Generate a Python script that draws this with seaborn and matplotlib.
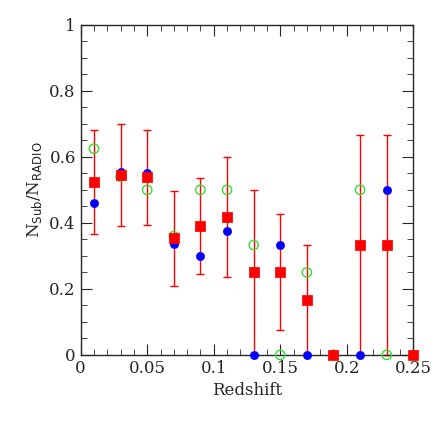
import matplotlib
matplotlib.use("Agg")
import matplotlib.pyplot as plt
import seaborn as sns
import numpy as np
from matplotlib.ticker import MultipleLocator

# data
z_red = [0.01, 0.03, 0.05, 0.07, 0.09, 0.11, 0.13, 0.15, 0.17, 0.19, 0.21, 0.23, 0.25]
frac_red = [0.525, 0.545, 0.54, 0.355, 0.39, 0.417, 0.25, 0.25, 0.167, 0.0, 0.333, 0.333, 0.0]
err_lo = [0.365, 0.39, 0.395, 0.21, 0.245, 0.235, 0.0, 0.075, 0.0, 0.0, 0.0, 0.0, 0.0]
err_hi = [0.68, 0.70, 0.68, 0.497, 0.535, 0.60, 0.5, 0.427, 0.333, 0.0, 0.667, 0.667, 0.0]

z_blue = [0.01, 0.03, 0.05, 0.07, 0.09, 0.11, 0.13, 0.15, 0.17, 0.21, 0.23]
frac_blue = [0.46, 0.555, 0.55, 0.335, 0.30, 0.375, 0.0, 0.333, 0.0, 0.0, 0.5]

z_green = [0.01, 0.03, 0.05, 0.07, 0.09, 0.11, 0.13, 0.15, 0.17, 0.19, 0.21, 0.23]
frac_green = [0.625, 0.54, 0.5, 0.36, 0.5, 0.5, 0.333, 0.0, 0.25, 0.0, 0.5, 0.0]

sns.set_style("ticks")
plt.rcParams['font.family'] = ['DejaVu Serif']

fig, ax = plt.subplots(figsize=(4.36, 4.36), dpi=100)
fig.subplots_adjust(left=0.185, right=0.948, top=0.943, bottom=0.186)

yerr = [np.array(frac_red) - np.array(err_lo), np.array(err_hi) - np.array(frac_red)]
ax.errorbar(z_red, frac_red, yerr=yerr, fmt='none', ecolor='red', elinewidth=1,
            capsize=3, capthick=1, zorder=2, clip_on=False)
sns.scatterplot(x=z_green, y=frac_green, ax=ax, marker='o', s=45, facecolor='none',
                edgecolor='#33dd33', linewidth=1, zorder=3, clip_on=False)
sns.scatterplot(x=z_blue, y=frac_blue, ax=ax, marker='o', s=35, color='blue',
                edgecolor='blue', zorder=4, clip_on=False)
sns.scatterplot(x=z_red, y=frac_red, ax=ax, marker='s', s=45, color='red',
                edgecolor='red', zorder=5, clip_on=False)

ax.set_xlim(0, 0.25)
ax.set_ylim(0, 1)
ax.xaxis.set_major_locator(MultipleLocator(0.05))
ax.xaxis.set_minor_locator(MultipleLocator(0.01))
ax.yaxis.set_major_locator(MultipleLocator(0.2))
ax.yaxis.set_minor_locator(MultipleLocator(0.05))
ax.set_xticks([0, 0.05, 0.1, 0.15, 0.2, 0.25], ['0', '0.05', '0.1', '0.15', '0.2', '0.25'])
ax.set_yticks([0, 0.2, 0.4, 0.6, 0.8, 1], ['0', '0.2', '0.4', '0.6', '0.8', '1'])
ax.tick_params(which='both', direction='in', top=True, right=True, labelsize=12)
ax.tick_params(which='major', length=8)
ax.tick_params(which='minor', length=4)
for s in ax.spines.values():
    s.set_linewidth(1)
ax.set_xlabel('Redshift', fontsize=12)
ax.set_ylabel(r'N$_{\mathrm{Sub}}$/N$_{\mathrm{RADIO}}$', fontsize=12)

fig.savefig('out.png', dpi=100)
